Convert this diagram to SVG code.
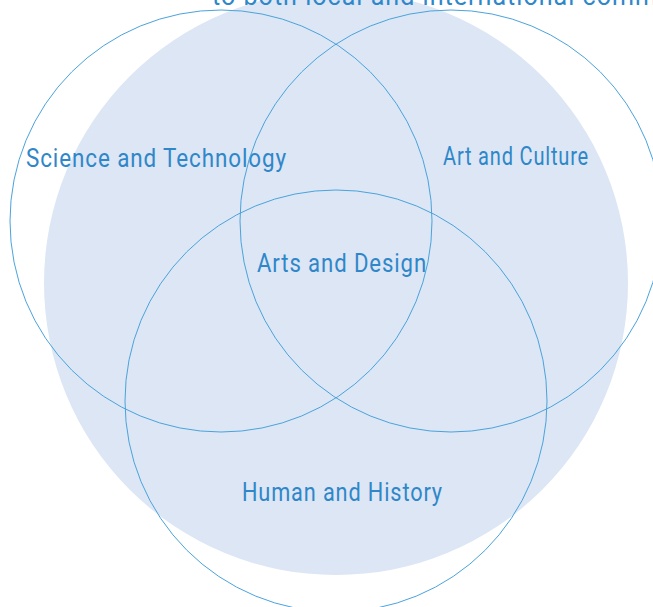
<svg xmlns="http://www.w3.org/2000/svg" width="653" height="607" viewBox="0 0 653 607">
<style>
.ring{fill:none;stroke:#4aa3dc;stroke-width:1}
.lbl{font-family:"Roboto","Liberation Sans",sans-serif;font-size:25px;fill:#2f87c9;letter-spacing:1px}
</style>
<rect width="653" height="607" fill="#ffffff"/>
<g id="background">
<circle cx="336" cy="283" r="292" fill="#dce6f4"/>
</g>
<text class="lbl" x="212" y="5" textLength="446" lengthAdjust="spacingAndGlyphs">to both local and international comm</text>
<g id="connectors"></g>
<g id="science">
<circle class="ring" cx="221" cy="221" r="211"/>
<text class="lbl" x="26" y="167" textLength="261" lengthAdjust="spacingAndGlyphs">Science and Technology</text>
</g>
<g id="art">
<circle class="ring" cx="451" cy="221" r="211"/>
<text class="lbl" x="443" y="165" textLength="146" lengthAdjust="spacingAndGlyphs">Art and Culture</text>
</g>
<g id="human">
<circle class="ring" cx="336" cy="401" r="211"/>
<text class="lbl" x="242" y="501" textLength="201" lengthAdjust="spacingAndGlyphs">Human and History</text>
</g>
<g id="design">
<text class="lbl" x="257" y="272" textLength="170" lengthAdjust="spacingAndGlyphs">Arts and Design</text>
</g>
</svg>
